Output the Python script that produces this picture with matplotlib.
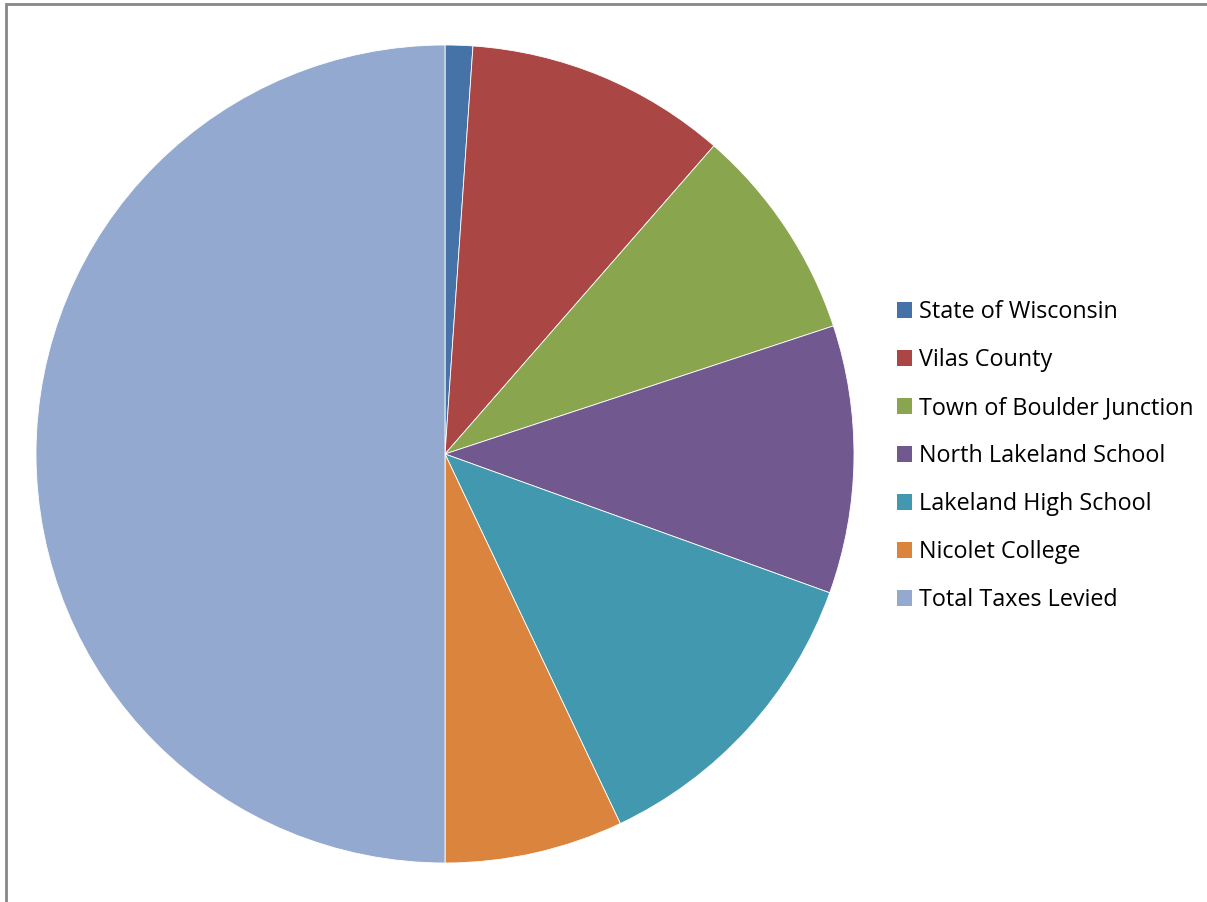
import matplotlib.pyplot as plt
from matplotlib.patches import Patch, Rectangle

# доли налогов (%)
labels = ['State of Wisconsin', 'Vilas County', 'Town of Boulder Junction',
          'North Lakeland School', 'Lakeland High School', 'Nicolet College',
          'Total Taxes Levied']
values = [1.09, 10.33, 8.51, 10.58, 12.44, 7.05, 50.0]
colors = ['#4572A7', '#AA4643', '#89A54E', '#71588F', '#4198AF', '#DB843D', '#93A9CF']

W, H = 1207, 902
fig = plt.figure(figsize=(W / 100, H / 100), dpi=100)

# рамка области диаграммы (видны только левая и верхняя стороны)
fig.patches.append(Rectangle((6 / W, -0.1), 1.2, (H - 4) / H + 0.1, transform=fig.transFigure,
                             fill=False, edgecolor='#878787', linewidth=2))

cx, cy, r = 445, 454, 409
ax = fig.add_axes([(cx - r) / W, (H - cy - r) / H, 2 * r / W, 2 * r / H])
ax.pie(values, colors=colors, startangle=90, counterclock=False,
       wedgeprops=dict(edgecolor='white', linewidth=0.6))
ax.set_xlim(-1, 1)
ax.set_ylim(-1, 1)
ax.set_aspect('equal')
ax.axis('off')

handles = [Patch(facecolor=c, edgecolor='none') for c in colors]
fig.legend(handles, labels, loc='upper left', bbox_to_anchor=(876 / W, 1 - 279 / H),
           frameon=False, prop={'family': 'Open Sans', 'size': 16.8},
           handlelength=0.65, handleheight=0.65, handletextpad=0.3, labelspacing=1.03)

fig.savefig('out.png', dpi=100)
